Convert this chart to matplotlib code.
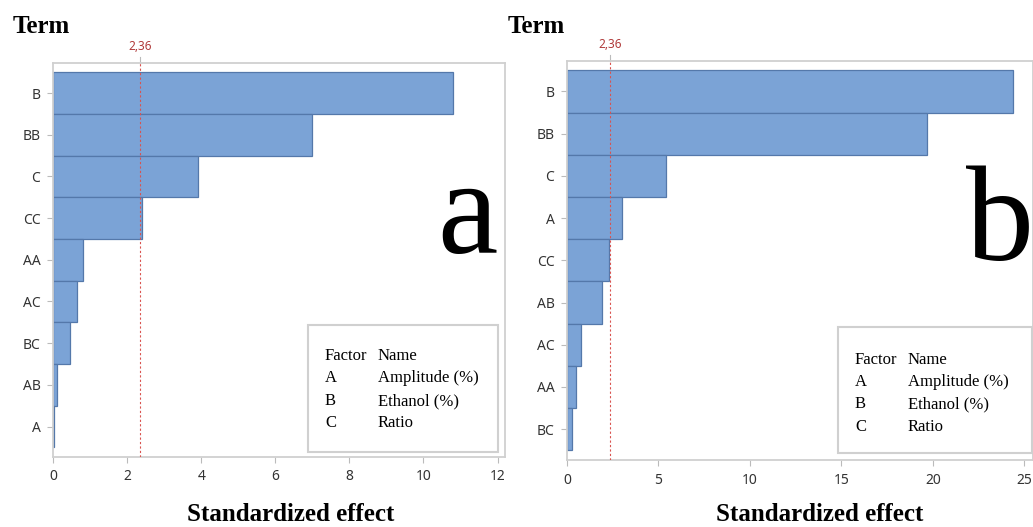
import matplotlib
matplotlib.use("Agg")
import matplotlib.pyplot as plt
from matplotlib.patches import Rectangle
import matplotlib.transforms as mtransforms

# Pareto chart data: standardized effects (sorted, largest first)
terms_a = ["B", "BB", "C", "CC", "AA", "AC", "BC", "AB", "A"]
effects_a = [10.8, 6.98, 3.92, 2.41, 0.82, 0.65, 0.47, 0.12, 0.03]

terms_b = ["B", "BB", "C", "A", "CC", "AB", "AC", "AA", "BC"]
effects_b = [24.4, 19.7, 5.4, 3.0, 2.3, 1.9, 0.77, 0.5, 0.28]

critical_value = 2.36
critical_label = "2,36"

xticks_a = [0, 2, 4, 6, 8, 10, 12]
xticks_b = [0, 5, 10, 15, 20, 25]

factor_rows = [("Factor", "Name"),
               ("A", "Amplitude (%)"),
               ("B", "Ethanol (%)"),
               ("C", "Ratio")]

W, H = 1033, 527
fig = plt.figure(figsize=(W / 100, H / 100), dpi=100)

SERIF = ["Liberation Serif", "DejaVu Serif"]
SANS = ["Liberation Sans Narrow", "Noto Sans", "DejaVu Sans"]
BAR_FACE = "#7ba3d6"
BAR_EDGE = "#5478aa"
SPINE = "#d0d0d0"
RED = "#b03a3a"


def fx(x):
    return x / W


def fy(y):
    return 1 - y / H


def panel(left, top, right, bottom, terms, effects, xmax, xticks):
    ax = fig.add_axes([fx(left), fy(bottom), fx(right - left), (bottom - top) / H])
    n = len(terms)
    ax.barh(range(n), effects, height=1.0, color=BAR_FACE,
            edgecolor=BAR_EDGE, linewidth=0.9, zorder=2)
    ax.set_ylim(n - 0.5 + 0.23, -0.5 - 0.22)
    ax.set_xlim(0, xmax)
    ax.set_yticks(range(n))
    ax.set_yticklabels(terms, family=SANS, fontsize=10, color="#333333")
    ax.set_xticks(xticks)
    ax.set_xticklabels([str(t) for t in xticks], family=SANS, fontsize=10,
                       color="#333333")
    ax.tick_params(axis="both", length=4, width=0.8, color="#bbbbbb", pad=5)
    for s in ax.spines.values():
        s.set_color(SPINE)
        s.set_linewidth(1.3)
    # reference line at the critical t-value
    ax.axvline(critical_value, color="#d9534f", linestyle=(0, (2, 2)),
               linewidth=0.8, zorder=3)
    trans = mtransforms.blended_transform_factory(ax.transData, ax.transAxes)
    ax.plot([critical_value, critical_value], [1.0, 1.015], transform=trans,
            color="#bbbbbb", linewidth=0.8, clip_on=False)
    ax.text(critical_value, 1.025, critical_label, transform=trans,
            ha="center", va="bottom", fontsize=8.5, color=RED, family=SANS)
    return ax


panel(53, 63, 505, 457, terms_a, effects_a, 12.2, xticks_a)
panel(567, 61, 1033, 460, terms_b, effects_b, 25.47, xticks_b)

# Titles
fig.text(fx(13), fy(33), "Term", family=SERIF, weight="bold", fontsize=18,
         ha="left", va="baseline")
fig.text(fx(508), fy(33), "Term", family=SERIF, weight="bold", fontsize=18,
         ha="left", va="baseline")
fig.text(fx(291), fy(521), "Standardized effect", family=SERIF, weight="bold",
         fontsize=18, ha="center", va="baseline")
fig.text(fx(820), fy(521), "Standardized effect", family=SERIF, weight="bold",
         fontsize=18, ha="center", va="baseline")

# Panel letters
fig.text(fx(437), fy(253), "a", family=SERIF, fontsize=98, ha="left",
         va="baseline")
fig.text(fx(966), fy(260), "b", family=SERIF, fontsize=98, ha="left",
         va="baseline")


def factor_box(x0, y0, x1, y1, col1, col2, rows_y):
    fig.patches.append(Rectangle((fx(x0), fy(y1)), fx(x1 - x0), (y1 - y0) / H,
                                 transform=fig.transFigure, facecolor="white",
                                 edgecolor=SPINE, linewidth=1.5, zorder=5))
    for (c1, c2), yy in zip(factor_rows, rows_y):
        fig.text(fx(col1), fy(yy), c1, family=SERIF, fontsize=12, ha="left",
                 va="center", zorder=6)
        fig.text(fx(col2), fy(yy), c2, family=SERIF, fontsize=12, ha="left",
                 va="center", zorder=6)


factor_box(308, 325, 498, 452, 325, 378, [356, 378, 401, 423])
factor_box(838, 327, 1032, 453, 855, 908, [360, 382, 404, 427])

fig.savefig("out.png", dpi=100)
